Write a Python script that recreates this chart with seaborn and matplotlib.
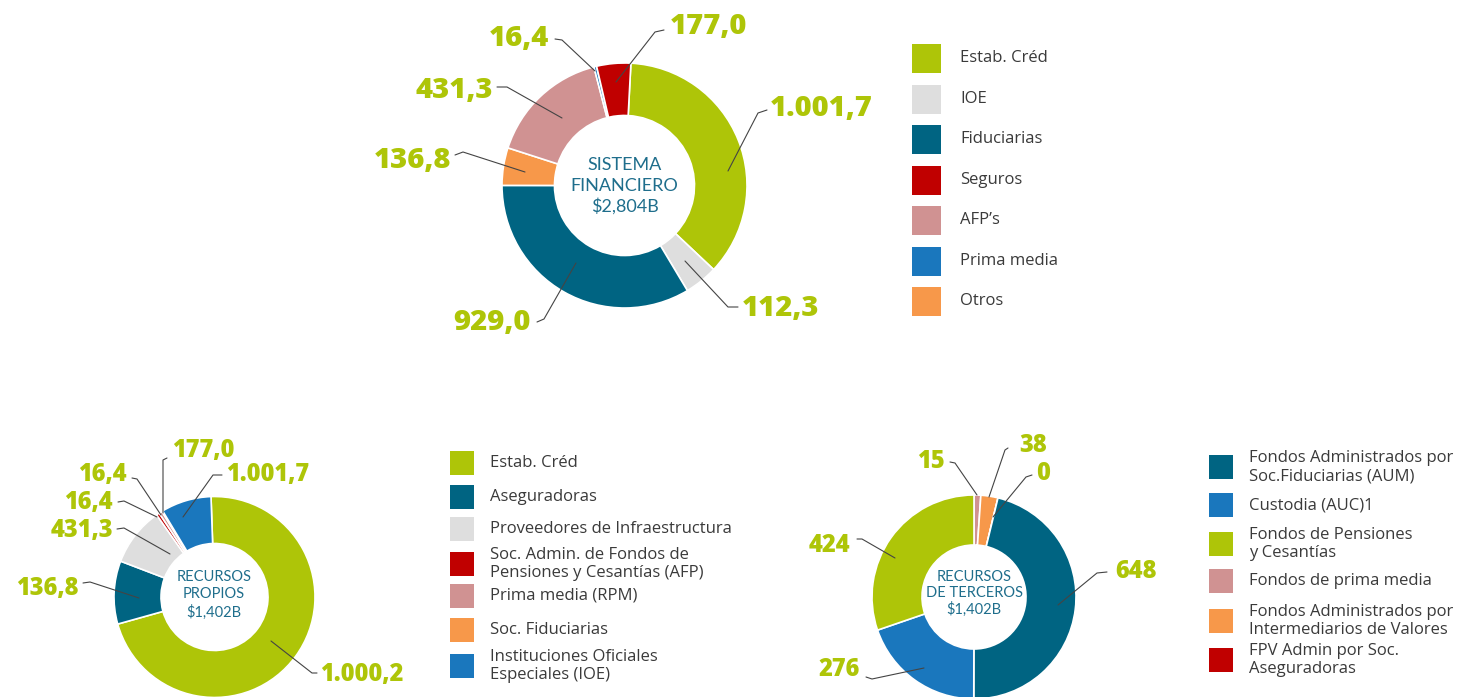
import matplotlib
matplotlib.use("Agg")
import matplotlib.pyplot as plt
from matplotlib.patches import Rectangle
import seaborn as sns

W, H = 1460, 697

# colours
GREEN = "#aec508"
TEAL = "#006482"
GREY = "#dedede"
RED = "#c00000"
PINK = "#d09292"
BLUE = "#1a77bd"
ORANGE = "#f7984a"
CENTER_TXT = "#1f6e8c"
LEGEND_TXT = "#3a3a3a"

# ---- top donut: Sistema financiero (wedge order, clockwise from top)
top_cats = ["Estab. Créd", "IOE", "Fiduciarias", "Otros", "AFP’s", "Prima media", "Seguros"]
top_values = [1015, 123, 942, 139, 449, 10, 126]
top_texts = ["1.001,7", "112,3", "929,0", "136,8", "431,3", "16,4", "177,0"]
top_legend = ["Estab. Créd", "IOE", "Fiduciarias", "Seguros", "AFP’s", "Prima media", "Otros"]
top_colors = {"Estab. Créd": GREEN, "IOE": GREY, "Fiduciarias": TEAL, "Seguros": RED,
              "AFP’s": PINK, "Prima media": BLUE, "Otros": ORANGE}

# ---- bottom left: Recursos propios
bl_cats = ["Estab. Créd", "Aseguradoras", "Proveedores de Infraestructura",
           "Soc. Admin. de Fondos de\nPensiones y Cesantías (AFP)", "Prima media (RPM)",
           "Soc. Fiduciarias", "Instituciones Oficiales\nEspeciales (IOE)"]
bl_values = [997, 142, 132, 7, 7, 2, 113]
bl_texts = ["1.000,2", "136,8", "431,3", "16,4", "16,4", "177,0", "1.001,7"]
bl_colors = [GREEN, TEAL, GREY, RED, PINK, ORANGE, BLUE]

# ---- bottom right: Recursos de terceros (wedge order, clockwise from top)
br_cats = ["Fondos de prima media", "Fondos Administrados por\nIntermediarios de Valores",
           "FPV Admin por Soc.\nAseguradoras", "Fondos Administrados por\nSoc.Fiduciarias (AUM)",
           "Custodia (AUC)1", "Fondos de Pensiones\ny Cesantías"]
br_values = [15, 38, 0, 648, 276, 424]
br_texts = ["15", "38", "0", "648", "276", "424"]
br_legend = ["Fondos Administrados por\nSoc.Fiduciarias (AUM)", "Custodia (AUC)1",
             "Fondos de Pensiones\ny Cesantías", "Fondos de prima media",
             "Fondos Administrados por\nIntermediarios de Valores",
             "FPV Admin por Soc.\nAseguradoras"]
br_colors = {br_legend[0]: TEAL, br_legend[1]: BLUE, br_legend[2]: GREEN,
             br_legend[3]: PINK, br_legend[4]: ORANGE, br_legend[5]: RED}

# ---- layout (pixel positions, y from top)
top_leaders = [[(728, 171), (758, 113), (767, 110)], [(685, 261), (728, 307), (738, 307)],
               [(576, 263), (544, 319), (537, 322)], [(525, 172), (463, 152), (455, 155)],
               [(562, 118), (507, 87), (497, 87)], [(595, 71), (562, 40), (555, 39)],
               [(616, 82), (655, 32), (664, 30)]]
top_lbl_pos = [(770, 108, "left"), (742, 309, "left"), (531, 323, "right"), (451, 161, "right"),
               (493, 90, "right"), (549, 38, "right"), (670, 26, "left")]

bl_leaders = [[(271, 641), (312, 673), (317, 673)], [(139, 598), (90, 582), (83, 583)],
              [(170, 554), (124, 528), (117, 529)], [(157, 517), (124, 501), (118, 502)],
              [(161, 515), (137, 479), (132, 478)], [(163, 513), (163, 460), (167, 458)],
              [(183, 517), (213, 475), (222, 475)]]
bl_lbl_pos = [(320, 674, "left"), (79, 589, "right"), (113, 530, "right"), (113, 503, "right"),
              (127, 475, "right"), (172, 450, "left"), (226, 475, "left")]

br_leaders = [[(977, 495), (955, 463), (950, 462)], [(989, 497), (1005, 450), (1008, 448)],
              [(993, 517), (1026, 477), (1032, 475)], [(1058, 605), (1097, 573), (1107, 572)],
              [(924, 668), (872, 679), (866, 677)], [(895, 558), (862, 539), (857, 539)]]
br_lbl_pos = [(945, 462, "right"), (1019, 445, "left"), (1036, 473, "left"),
              (1115, 572, "left"), (860, 669, "right"), (850, 545, "right")]

sns.set_theme(style="white")
plt.rcParams["font.family"] = ["Open Sans", "DejaVu Sans"]

fig = plt.figure(figsize=(W / 100, H / 100), dpi=100)
ax = fig.add_axes([0, 0, 1, 1])


def donut(values, colors, cx, cy, r, width, start):
    ax.pie(values, colors=colors, radius=r, center=(cx, H - cy), startangle=start,
           counterclock=False, frame=True,
           wedgeprops=dict(width=width, edgecolor="white", linewidth=1.2))


def leaders(lines, positions, texts, size):
    for pts, (tx, ty, ha), t in zip(lines, positions, texts):
        ax.plot([p[0] for p in pts], [H - p[1] for p in pts], color="#444444", lw=0.8)
        ax.text(tx, H - ty, t, ha=ha, va="center", fontsize=size, fontweight="heavy", color=GREEN)


def center_text(lines, cx, ys, size):
    for t, y in zip(lines, ys):
        ax.text(cx, H - y, t, ha="center", va="center", fontsize=size, color=CENTER_TXT,
                family=["Lato", "DejaVu Sans"], fontweight="normal")


def legend(labels, colors, x, sq, ys, size):
    for lab, c, y in zip(labels, colors, ys):
        ax.add_patch(Rectangle((x, H - y - sq / 2), sq, sq, color=c, lw=0))
        ax.text(x + sq + (19 if sq > 25 else 16), H - y, lab, ha="left", va="center",
                fontsize=size, color=LEGEND_TXT, linespacing=1.2)


donut(top_values, [top_colors[c] for c in top_cats], 624.5, 185.5, 122.5, 52.5, 87)
donut(bl_values, bl_colors, 214.5, 597, 100.5, 47, 92)
donut(br_values, [br_colors[c] for c in br_cats], 974, 597, 102, 50, 90)

leaders(top_leaders, top_lbl_pos, top_texts, 21)
leaders(bl_leaders, bl_lbl_pos, bl_texts, 17)
leaders(br_leaders, br_lbl_pos, br_texts, 17)

center_text(["SISTEMA", "FINANCIERO", "$2,804B"], 624.5, [165, 186, 206], 13)
center_text(["RECURSOS", "PROPIOS", "$1,402B"], 214, [577, 594, 612], 10.5)
center_text(["RECURSOS", "DE TERCEROS", "$1,402B"], 974, [577, 593, 609], 10.5)

legend(top_legend, [top_colors[c] for c in top_legend], 912, 29,
       [58, 99, 139, 180, 220, 261, 301], 12)
legend(bl_cats, bl_colors, 450, 24, [463, 497, 529, 564, 596, 630, 666], 12)
legend(br_legend, [br_colors[c] for c in br_legend], 1209, 24,
       [467, 505, 544, 581, 621, 660], 12)

ax.set_xlim(0, W)
ax.set_ylim(0, H)
ax.set_aspect("equal")
ax.axis("off")

fig.savefig("out.png", dpi=100)
